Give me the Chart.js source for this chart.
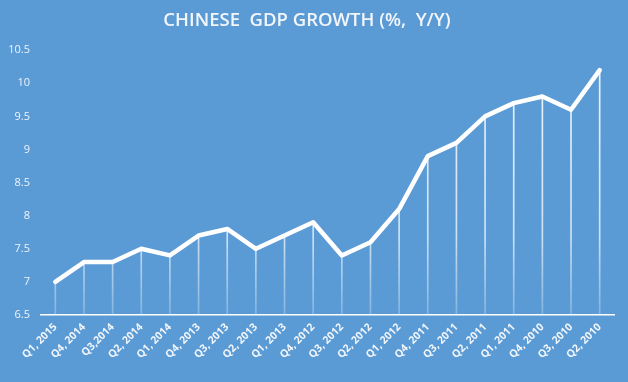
<!DOCTYPE html>
<html>
<head>
<meta charset="utf-8">
<script src="https://cdn.jsdelivr.net/npm/chart.js@4/dist/chart.umd.min.js"></script>
<style>
  html, body { margin: 0; padding: 0; background: #5b9bd5; }
  #wrap { width: 628px; height: 382px; }
</style>
</head>
<body>
<div id="wrap"><canvas id="gdp" width="628" height="382"></canvas></div>
<script>
// quarters, newest first as in the source chart
const quarters = [
  'Q1, 2015', 'Q4, 2014', 'Q3,2014', 'Q2, 2014', 'Q1, 2014',
  'Q4, 2013', 'Q3, 2013', 'Q2, 2013', 'Q1, 2013', 'Q4, 2012',
  'Q3, 2012', 'Q2, 2012', 'Q1, 2012', 'Q4, 2011', 'Q3, 2011',
  'Q2, 2011', 'Q1, 2011', 'Q4, 2010', 'Q3, 2010', 'Q2, 2010'
];

// GDP growth, % y/y
const growth = [
  7.0, 7.3, 7.3, 7.5, 7.4,
  7.7, 7.8, 7.5, 7.7, 7.9,
  7.4, 7.6, 8.1, 8.9, 9.1,
  9.5, 9.7, 9.8, 9.6, 10.2
];

const yTicks = [6.5, 7, 7.5, 8, 8.5, 9, 9.5, 10, 10.5];

const ctx = document.getElementById('gdp').getContext('2d');

const chart = new Chart(ctx, {
  data: {
    labels: quarters,
    datasets: [
      {
        type: 'line',
        label: 'GDP growth',
        data: growth,
        borderColor: '#ffffff',
        borderWidth: 4.5,
        tension: 0,
        pointRadius: 0,
        borderJoinStyle: 'round',
        borderCapStyle: 'round',
        order: 0,
      },
      {
        // thin drop lines under each point
        type: 'bar',
        label: 'drop',
        data: growth,
        backgroundColor: (c) => {
          const area = c.chart.chartArea;
          if (!area) return 'rgba(255,255,255,0.8)';
          const g = c.chart.ctx.createLinearGradient(0, area.top, 0, area.bottom);
          g.addColorStop(0, 'rgba(255,255,255,0.9)');
          g.addColorStop(0.7, 'rgba(255,255,255,0.7)');
          g.addColorStop(1, 'rgba(255,255,255,0.25)');
          return g;
        },
        barThickness: 1,
        order: 1,
      },
    ],
  },
  options: {
    responsive: false,
    animation: false,
    layout: { padding: { left: 0, right: 14, top: 0, bottom: 0 } },
    plugins: {
      legend: { display: false },
      tooltip: { enabled: false },
      title: {
        display: true,
        text: 'CHINESE  GDP GROWTH (%,  Y/Y)',
        color: '#f2f6fb',
        font: { family: 'Open Sans', size: 18.5, weight: '600' },
        padding: { top: 10, bottom: 18 },
      },
    },
    scales: {
      x: {
        offset: true,
        grid: { display: false, drawTicks: false },
        border: { display: true, color: '#ffffff', width: 1.5 },
        ticks: {
          color: '#f2f6fb',
          font: { family: 'Open Sans', size: 10.5, weight: 'bold' },
          minRotation: 45,
          maxRotation: 45,
          padding: 6,
          autoSkip: false,
        },
        afterFit: (s) => { s.height = 67; },
      },
      y: {
        min: 6.5,
        max: 10.5,
        afterBuildTicks: (s) => { s.ticks = yTicks.map((v) => ({ value: v })); },
        grid: { display: false, drawTicks: false },
        border: { display: false },
        ticks: {
          color: '#eef3fa',
          font: { family: 'Open Sans', size: 11 },
          padding: 11,
          callback: (v) => String(v),
        },
        afterFit: (s) => { s.width = 41; },
      },
    },
  },
});
</script>
</body>
</html>
